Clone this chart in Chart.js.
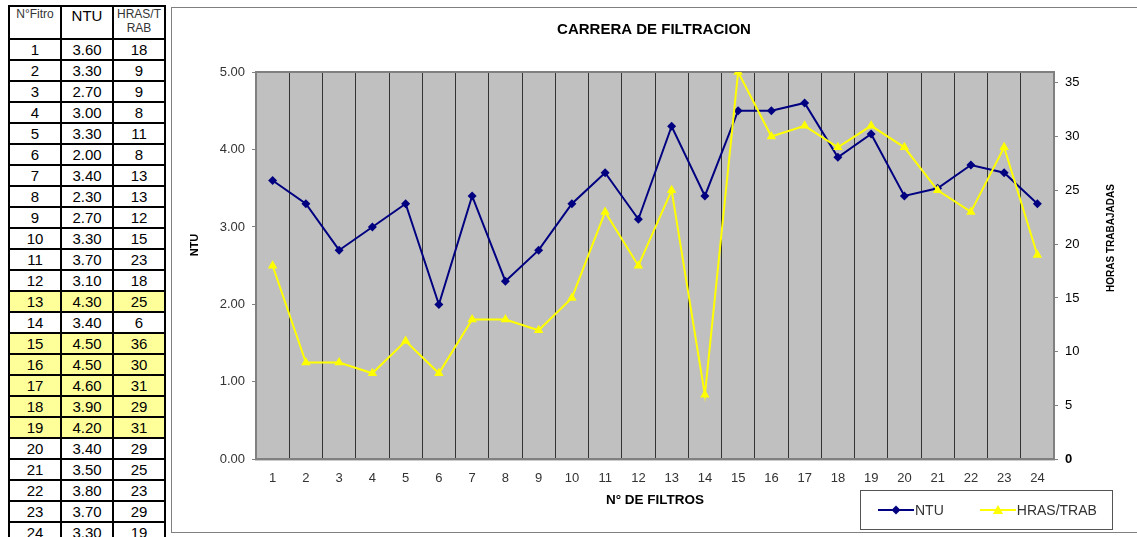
<!DOCTYPE html>
<html lang="es">
<head>
<meta charset="utf-8">
<title>Carrera de filtracion</title>
<script src="https://cdn.jsdelivr.net/npm/chart.js@4.4.0/dist/chart.umd.min.js"></script>
<style>
  body { margin: 0; width: 1137px; height: 537px; overflow: hidden; background: #fff; position: relative;
         font-family: "Liberation Sans", Arial, sans-serif; }
  #tabla { position: absolute; left: 8px; top: 5px; border-collapse: collapse; }
  #tabla td, #tabla th { border: 2px solid #000; width: 50px; height: 19px; padding: 0; text-align: center;
         font-size: 15px; line-height: 17px; font-weight: normal; color: #000; }
  #tabla th { height: 31px; vertical-align: top; font-size: 12px; line-height: 14px; color: #333; }
  #tabla th.grande { font-size: 15px; line-height: 17px; color: #000; }
  #tabla tr.marcada td { background: #ffff99; }
  #marco { position: absolute; left: 171px; top: 7px; width: 966px; height: 526px; border: 1px solid #808080;
         border-right: none; box-sizing: border-box; }
  #grafico { position: absolute; left: 0; top: 0; }
  #leyenda { position: absolute; left: 860px; top: 490px; width: 253px; height: 40px; box-sizing: border-box;
         border: 1px solid #555; display: flex; align-items: center; font-size: 14px; color: #333; }
  #leyenda span.item { display: flex; align-items: center; }
  #leyenda svg { display: block; margin-right: 1px; }
</style>
</head>
<body>

<table id="tabla">
  <thead>
    <tr><th>N°Fitro</th><th class="grande">NTU</th><th>HRAS/T<br>RAB</th></tr>
  </thead>
  <tbody id="filas"></tbody>
</table>

<div id="marco">
  <canvas id="grafico" width="964" height="524"></canvas>
</div>

<div id="leyenda">
  <span class="item" style="margin-left:17px">
    <svg width="36" height="12"><line x1="0" y1="6" x2="36" y2="6" stroke="#000080" stroke-width="2"/>
      <polygon points="18,1.5 22.5,6 18,10.5 13.5,6" fill="#000080"/></svg>NTU</span>
  <span class="item" style="margin-left:36px">
    <svg width="36" height="12"><line x1="0" y1="6" x2="36" y2="6" stroke="#ffff00" stroke-width="2"/>
      <polygon points="18,1 23,10 13,10" fill="#ffff00"/></svg>HRAS/TRAB</span>
</div>

<script>
const filtros = ['1','2','3','4','5','6','7','8','9','10','11','12','13','14','15','16','17','18','19','20','21','22','23','24'];
const ntu = [3.60, 3.30, 2.70, 3.00, 3.30, 2.00, 3.40, 2.30, 2.70, 3.30, 3.70, 3.10, 4.30, 3.40, 4.50, 4.50, 4.60, 3.90, 4.20, 3.40, 3.50, 3.80, 3.70, 3.30];
const horas = [18, 9, 9, 8, 11, 8, 13, 13, 12, 15, 23, 18, 25, 6, 36, 30, 31, 29, 31, 29, 25, 23, 29, 19];
const marcados = ['13', '15', '16', '17', '18', '19'];
const ticksHoras = [0, 5, 10, 15, 20, 25, 30, 35];

// tabla de la izquierda
const filas = document.getElementById('filas');
filtros.forEach((f, i) => {
  const tr = document.createElement('tr');
  if (marcados.includes(f)) tr.className = 'marcada';
  [f, ntu[i].toFixed(2), String(horas[i])].forEach(t => {
    const td = document.createElement('td');
    td.textContent = t;
    tr.appendChild(td);
  });
  filas.appendChild(tr);
});

const fuente = '"Liberation Sans", Arial, sans-serif';

const fondo = {
  id: 'fondo',
  beforeDraw(chart) {
    const a = chart.chartArea, ctx = chart.ctx;
    ctx.save();
    ctx.fillStyle = '#c0c0c0';
    ctx.fillRect(a.left, a.top, a.right - a.left, a.bottom - a.top);
    ctx.restore();
  },
  beforeDatasetsDraw(chart) {
    const a = chart.chartArea, ctx = chart.ctx;
    ctx.save();
    ctx.strokeStyle = '#808080';
    ctx.lineWidth = 2;
    ctx.strokeRect(a.left, a.top, a.right - a.left, a.bottom - a.top);
    ctx.restore();
  }
};

// titulos de ejes dibujados a mano (el de la derecha se lee de abajo hacia arriba)
function textoEje(ctx, texto, x, y, size, rotar) {
  ctx.save();
  ctx.font = 'bold ' + size + 'px ' + fuente;
  ctx.fillStyle = '#000';
  ctx.textAlign = 'center';
  ctx.textBaseline = 'middle';
  ctx.translate(x, y);
  if (rotar) ctx.rotate(-Math.PI / 2);
  ctx.fillText(texto, 0, 0);
  ctx.restore();
}

const titulosEjes = {
  id: 'titulosEjes',
  afterDraw(chart) {
    const a = chart.chartArea, ctx = chart.ctx;
    textoEje(ctx, 'NTU', a.left - 61, a.top + 173, 11, true);
    textoEje(ctx, 'HORAS TRABAJADAS', a.right + 57, a.top + 166, 10, true);
    textoEje(ctx, 'N° DE FILTROS', (a.left + a.right) / 2, a.bottom + 41, 13.5, false);
  }
};

new Chart(document.getElementById('grafico'), {
  type: 'line',
  data: {
    labels: filtros,
    datasets: [
      {
        label: 'NTU',
        data: ntu,
        yAxisID: 'y',
        borderColor: '#000080',
        backgroundColor: '#000080',
        borderWidth: 2,
        pointStyle: 'rectRot',
        pointRadius: 4.5,
        pointBorderWidth: 0,
        tension: 0,
        order: 2
      },
      {
        label: 'HRAS/TRAB',
        data: horas,
        yAxisID: 'y1',
        borderColor: '#ffff00',
        backgroundColor: '#ffff00',
        borderWidth: 2,
        pointStyle: 'triangle',
        pointRadius: 5.5,
        pointBorderWidth: 0,
        tension: 0,
        order: 1
      }
    ]
  },
  options: {
    responsive: false,
    animation: false,
    layout: { padding: { left: 0, right: 0, top: 0, bottom: 35 } },
    plugins: {
      legend: { display: false },
      tooltip: { enabled: false },
      title: {
        display: true,
        text: 'CARRERA DE FILTRACION',
        color: '#000',
        font: { family: fuente, size: 15, weight: 'bold' },
        padding: { top: 13, bottom: 33 }
      }
    },
    scales: {
      x: {
        offset: true,
        grid: { offset: true, color: '#333', lineWidth: 1, drawTicks: false },
        border: { color: '#808080', width: 2 },
        ticks: { color: '#333', font: { family: fuente, size: 13 }, padding: 11, maxRotation: 0, autoSkip: false }
      },
      y: {
        position: 'left',
        min: 0,
        max: 5,
        afterFit(s) { s.width = 84; },
        grid: { display: true, drawOnChartArea: false, tickLength: 4, color: '#808080' },
        border: { color: '#808080', width: 2 },
        ticks: { stepSize: 1, color: '#333', padding: 7, font: { family: fuente, size: 13 },
                 callback: v => v.toFixed(2) }
      },
      y1: {
        position: 'right',
        min: 0,
        max: 36,
        afterFit(s) { s.width = 82; },
        afterBuildTicks(s) { s.ticks = ticksHoras.map(v => ({ value: v })); },
        grid: { display: true, drawOnChartArea: false, tickLength: 4, color: '#808080' },
        border: { color: '#808080', width: 2 },
        ticks: { color: '#000', padding: 7,
                 font: c => ({ family: fuente, size: 13, weight: c.tick && c.tick.value === 0 ? 'bold' : 'normal' }) }
      }
    }
  },
  plugins: [fondo, titulosEjes]
});
</script>
</body>
</html>
